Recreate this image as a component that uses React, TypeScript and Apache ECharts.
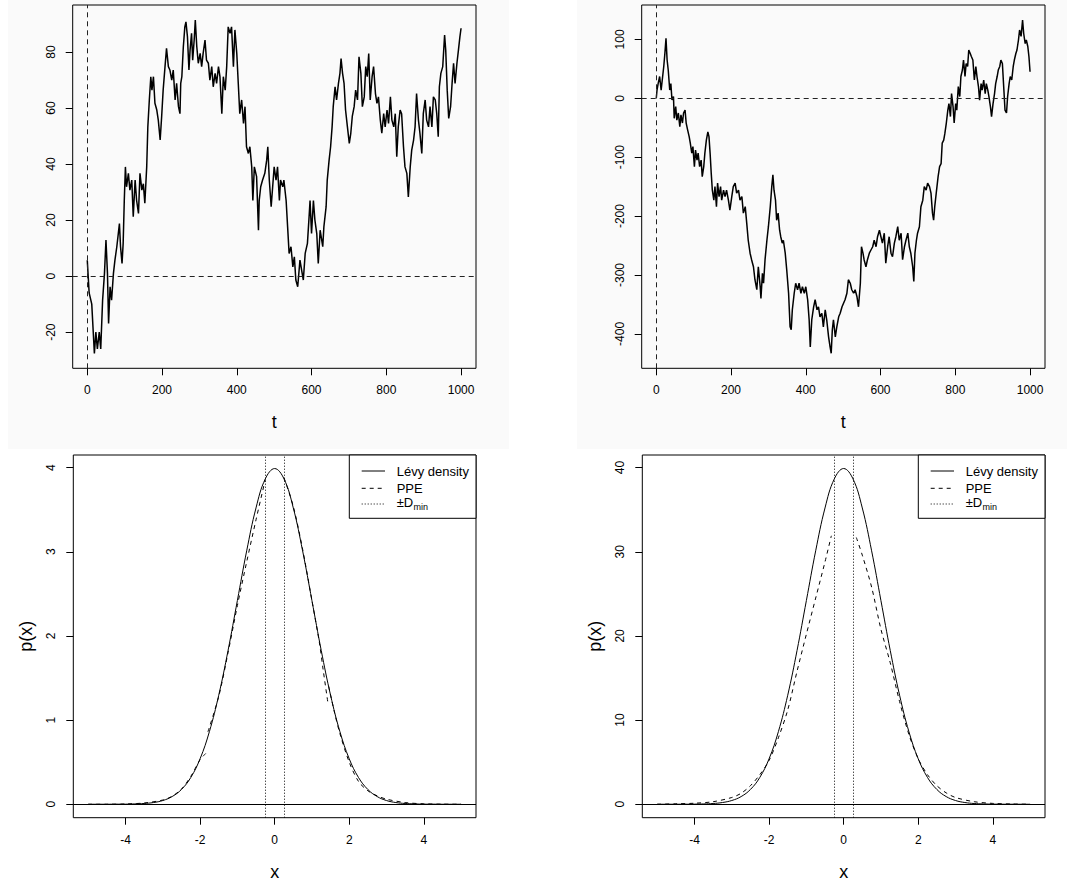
import React, { useEffect, useRef } from "react";
import * as echarts from "echarts";

const FONT = "'Liberation Sans', Arial, Helvetica, sans-serif";

// ---- Top-left random walk: [t, value]
const walkA: number[][] = [
  [0, 5.7], [5, -6], [12, -10], [16, -20], [19, -27.6], [23, -20], [27, -26], [32, -20], [36, -26], [41, -8.6],
  [46, 1], [50, 12.9], [54, 1], [57, -16.9], [61, -3.8], [65, -8.6], [70, 1], [74, 5.7], [79, 10.5], [83, 15.2],
  [86, 18.8], [89, 10.5], [93, 4.5], [96, 11.7], [99, 27], [102, 39], [105, 31.9], [110, 36.7], [114, 30.7], [119, 34.3],
  [123, 21.2], [128, 34.3], [132, 27], [137, 22.4], [141, 36.7], [146, 30.7], [150, 33], [154, 26], [159, 39], [162, 53.3],
  [166, 62.9], [170, 71.2], [173, 66.4], [177, 71.2], [181, 61.7], [186, 59.3], [190, 55.7], [195, 48.6], [199, 57], [203, 66.4],
  [208, 74.8], [212, 81.3], [217, 74.8], [221, 73.6], [226, 70], [230, 73.6], [235, 62.9], [239, 68.8], [244, 60.5], [248, 58],
  [250, 68.8], [253, 71.2], [257, 81.9], [261, 89], [264, 90.8], [268, 85.5], [272, 73.6], [275, 80.7], [279, 86.7], [282, 77.1],
  [286, 84.3], [289, 91.4], [293, 81.9], [297, 76], [302, 79.5], [306, 74.8], [310, 79.5], [315, 84.3], [319, 77.1], [324, 76],
  [328, 70], [333, 74.8], [337, 67.6], [342, 72.4], [346, 68.8], [351, 74.8], [355, 71.2], [360, 58], [364, 71.2], [369, 66.4],
  [373, 74.8], [377, 89], [382, 86.7], [386, 89], [391, 74.8], [395, 87.9], [400, 79.5], [404, 68.8], [408, 58], [413, 62.9],
  [418, 54.5], [422, 60.5], [426, 46.2], [431, 43.8], [435, 46.2], [440, 39], [443, 27], [447, 39], [453, 35.5], [458, 16.4],
  [460, 27], [464, 31.9], [469, 34.3], [475, 36.7], [480, 41.4], [483, 46.2], [487, 34.3], [492, 24.8], [496, 31.9], [500, 39],
  [505, 34.3], [509, 39], [514, 27], [517, 34.3], [523, 31.9], [526, 34.3], [532, 27], [536, 17.6], [540, 8.1], [545, 10.5],
  [550, 3.3], [554, 6.9], [558, -1.4], [563, -3.8], [569, 5.7], [578, -1.4], [583, 8.1], [589, 11.7], [594, 22.4], [596, 27],
  [600, 15.2], [605, 27], [609, 20], [614, 15.2], [618, 4.5], [623, 16.4], [630, 10.5], [633, 17.6], [639, 24.8], [642, 34.3],
  [647, 41.4], [651, 46.2], [655, 53.3], [658, 60.5], [663, 67.6], [667, 62.9], [672, 68.8], [676, 72.4], [679, 77.7], [683, 72.4],
  [687, 68.8], [691, 59.3], [696, 53.3], [701, 47.4], [705, 51], [709, 57], [714, 60.5], [718, 66.4], [723, 62.9], [727, 78.3],
  [732, 72.4], [736, 60.5], [741, 64], [745, 74.8], [749, 71.2], [753, 79.5], [757, 62.9], [762, 71.2], [766, 74.8], [771, 65.2],
  [775, 61.7], [779, 64], [784, 55.7], [788, 51], [793, 58], [797, 53.3], [802, 59.3], [806, 54.5], [811, 64], [815, 55.7],
  [820, 53.3], [824, 58], [828, 42.6], [832, 53.3], [837, 59.3], [841, 58], [846, 46.2], [850, 39], [855, 36.7], [859, 28.3],
  [864, 39], [868, 45], [873, 48.6], [877, 53.3], [881, 65.2], [886, 55.7], [890, 51], [895, 43.8], [899, 58], [904, 62.9],
  [908, 55.7], [913, 53.3], [917, 60.5], [922, 53.3], [926, 64], [931, 62.9], [935, 58], [939, 49.8], [942, 67.6], [946, 72.4],
  [951, 74.8], [956, 86.1], [959, 80.7], [963, 66.4], [967, 56.3], [972, 60.5], [976, 68.8], [980, 76], [984, 68.8], [989, 76],
  [993, 80.7], [997, 85.5], [1000, 88.5],
];

// ---- Top-right random walk: [t, value]
const walkB: number[][] = [
  [0, 0], [2, 14], [5, 25], [9, 37], [13, 14], [16, 31], [20, 54], [23, 76], [26, 102], [29, 65],
  [32, 48], [36, 14], [39, 25], [42, -3], [46, 3], [48, -34], [52, -14], [55, -37], [59, -25], [63, -48],
  [66, -28], [70, -42], [73, -25], [77, -20], [80, -42], [84, -54], [88, -65], [91, -76], [95, -93], [98, -82],
  [102, -116], [105, -88], [109, -105], [112, -93], [116, -116], [120, -105], [123, -133], [127, -116], [130, -93], [134, -71],
  [138, -57], [141, -65], [144, -93], [147, -127], [150, -156], [154, -173], [157, -150], [161, -184], [164, -144], [168, -167],
  [172, -150], [175, -173], [180, -156], [184, -167], [188, -156], [193, -173], [197, -190], [202, -167], [206, -150], [211, -144],
  [215, -161], [220, -156], [224, -173], [229, -167], [233, -195], [238, -184], [242, -212], [246, -241], [251, -263], [255, -274],
  [260, -286], [264, -308], [269, -325], [273, -286], [278, -320], [280, -340], [284, -297], [287, -314], [291, -274], [296, -241],
  [300, -218], [305, -184], [309, -150], [312, -130], [315, -156], [319, -173], [322, -207], [326, -195], [330, -224], [333, -235],
  [337, -246], [340, -241], [345, -263], [349, -291], [354, -331], [358, -388], [361, -393], [364, -359], [369, -331], [373, -314],
  [378, -325], [382, -314], [387, -331], [391, -320], [396, -331], [400, -320], [405, -342], [409, -376], [412, -422], [416, -376],
  [421, -354], [425, -342], [430, -359], [434, -354], [438, -371], [443, -365], [447, -388], [452, -359], [456, -376], [461, -405],
  [465, -422], [468, -433], [471, -393], [474, -376], [479, -405], [483, -388], [488, -371], [492, -365], [497, -354], [501, -348],
  [505, -342], [510, -331], [514, -308], [519, -314], [523, -325], [528, -331], [532, -325], [537, -337], [541, -354], [546, -314],
  [549, -252], [553, -263], [556, -274], [561, -286], [565, -274], [570, -263], [574, -258], [579, -252], [583, -241], [588, -252],
  [592, -235], [597, -224], [601, -235], [605, -246], [610, -229], [614, -280], [619, -252], [623, -235], [628, -263], [632, -269],
  [637, -246], [641, -235], [646, -218], [650, -241], [655, -229], [659, -274], [664, -252], [668, -241], [673, -229], [677, -252],
  [681, -263], [686, -286], [689, -311], [692, -263], [696, -241], [699, -229], [704, -218], [708, -184], [713, -173], [717, -150],
  [722, -156], [726, -144], [731, -150], [735, -161], [739, -195], [742, -207], [745, -184], [749, -161], [754, -133], [758, -116],
  [762, -111], [765, -76], [769, -71], [772, -60], [776, -42], [780, -20], [783, -9], [787, -31], [790, 8], [794, -14],
  [797, -42], [801, -9], [804, -20], [808, 20], [812, 3], [815, 37], [819, 48], [822, 65], [826, 37], [829, 59],
  [833, 54], [836, 82], [840, 76], [843, 71], [847, 65], [851, 31], [855, 54], [858, 37], [862, 20], [865, -3],
  [869, 25], [872, 14], [876, 31], [880, 8], [883, 25], [887, 14], [890, 3], [894, -14], [897, -31], [901, -9],
  [905, 8], [908, 25], [912, 37], [915, 48], [919, 54], [922, 65], [926, 59], [930, 14], [933, -20], [937, -25],
  [940, 3], [944, 25], [947, 37], [951, 31], [955, 54], [958, 65], [962, 76], [965, 82], [969, 99], [972, 116],
  [976, 105], [980, 133], [983, 110], [987, 93], [990, 99], [994, 88], [997, 71], [1000, 45],
];

const walkTicksX = [0, 200, 400, 600, 800, 1000];
const walkATicksY = [-20, 0, 20, 40, 60, 80];
const walkBTicksY = [-400, -300, -200, -100, 0, 100];
const walkRef = 0;

// ---- Densities, x grid and values
const densX = [
  -5, -4.75, -4.5, -4.25, -4, -3.75, -3.5, -3.25, -3, -2.75, -2.5, -2.25, -2, -1.75, -1.5, -1.25, -1, -0.75, -0.5, -0.25,
  0, 0.25, 0.5, 0.75, 1, 1.25, 1.5, 1.75, 2, 2.25, 2.5, 2.75, 3, 3.25, 3.5, 3.75, 4, 4.25, 4.5, 4.75, 5,
];
const levyA = [
  0, 0, 0, 0.001, 0.001, 0.004, 0.009, 0.02, 0.044, 0.091, 0.175, 0.317, 0.54, 0.863, 1.295, 1.826, 2.42, 3.011, 3.521, 3.867,
  3.989, 3.867, 3.521, 3.011, 2.42, 1.826, 1.295, 0.863, 0.54, 0.317, 0.175, 0.091, 0.044, 0.02, 0.009, 0.004, 0.001, 0.001, 0, 0, 0,
];
const levyB = [
  0, 0, 0.002, 0.005, 0.013, 0.035, 0.087, 0.203, 0.443, 0.909, 1.753, 3.174, 5.399, 8.628, 12.952, 18.265, 24.197, 30.114, 35.207, 38.667,
  39.894, 38.667, 35.207, 30.114, 24.197, 18.265, 12.952, 8.628, 5.399, 3.174, 1.753, 0.909, 0.443, 0.203, 0.087, 0.035, 0.013, 0.005, 0.002, 0, 0,
];

// PPE pieces: [x, y], null marks a break between pieces
const ppeA: (number | null)[][] = [
  [-5, 0], [-4.5, 0], [-4, 0.003], [-3.5, 0.015], [-3, 0.05], [-2.75, 0.095], [-2.5, 0.18], [-2.25, 0.33], [-2, 0.53], [-1.9, 0.58], [-1.81, 0.62],
  [-1.8, null],
  [-1.79, 0.86], [-1.5, 1.28], [-1.25, 1.8], [-1, 2.36], [-0.75, 2.88], [-0.5, 3.38], [-0.25, 3.86],
  [0, null],
  [0.25, 3.88], [0.5, 3.54], [0.75, 3.03], [1, 2.42], [1.2, 1.92], [1.3, 1.6], [1.43, 1.2],
  [1.44, null],
  [1.45, 1.4], [1.6, 1.1], [1.75, 0.84], [2, 0.5], [2.25, 0.27], [2.5, 0.16], [2.75, 0.1], [3, 0.06], [3.5, 0.02], [4, 0.005], [4.5, 0.001], [5, 0],
];
const ppeB: (number | null)[][] = [
  [-5, 0], [-4.5, 0.05], [-4, 0.12], [-3.5, 0.3], [-3, 0.8], [-2.75, 1.3], [-2.5, 2.2], [-2.25, 3.5], [-2, 5.2], [-1.75, 7.9],
  [-1.5, 11.2], [-1.25, 15.8], [-1, 20.2], [-0.75, 24.5], [-0.5, 28.8], [-0.33, 31.9],
  [0, null],
  [0.34, 31.7], [0.5, 29.6], [0.75, 25.8], [1, 20.8], [1.25, 16.8], [1.5, 12.2], [1.75, 8.3], [2, 5.4], [2.25, 3.5],
  [2.5, 2.2], [2.75, 1.35], [3, 0.8], [3.5, 0.3], [4, 0.1], [4.5, 0.03], [5, 0],
];
const densTicksX = [-4, -2, 0, 2, 4];
const densATicksY = [0, 1, 2, 3, 4];
const densBTicksY = [0, 10, 20, 30, 40];
const dMin = 0.25;
const legendLabels = ["Lévy density", "PPE", "±D"];

const black = "#000";

function xAxisDef(gridIndex: number, min: number, max: number, ticks: number[], name: string) {
  return {
    gridIndex,
    type: "value",
    min,
    max,
    axisLine: { show: false, onZero: false },
    splitLine: { show: false },
    axisTick: { show: true, inside: false, length: 7, lineStyle: { color: black, width: 1 }, customValues: ticks },
    axisLabel: {
      customValues: ticks, margin: 16, fontSize: 12, color: black, fontFamily: FONT,
      formatter: (v: number) => String(v),
    },
    name,
    nameLocation: "middle",
    nameGap: 45,
    nameTextStyle: { fontSize: 18, color: black, fontFamily: FONT },
  };
}

function yAxisDef(gridIndex: number, min: number, max: number, ticks: number[], name: string) {
  return {
    gridIndex,
    type: "value",
    min,
    max,
    axisLine: { show: false, onZero: false },
    splitLine: { show: false },
    axisTick: { show: true, inside: false, length: 7, lineStyle: { color: black, width: 1 }, customValues: ticks },
    axisLabel: {
      customValues: ticks, margin: 16, fontSize: 12, color: black, fontFamily: FONT, rotate: 90,
      formatter: (v: number) => String(v),
    },
    name,
    nameLocation: "middle",
    nameGap: 38,
    nameRotate: 90,
    nameTextStyle: { fontSize: 18, color: black, fontFamily: FONT },
  };
}

function legendGraphic(left: number, top: number) {
  const w = 126.7;
  const h = 63.3;
  const lx1 = left + 12.4;
  const lx2 = left + 35.7;
  const tx = left + 47.4;
  const rows = [top + 16, top + 33.3, top + 49];
  const dashes: any[] = [null, [4, 4], [1, 2]];
  const els: any[] = [
    { type: "rect", shape: { x: left, y: top, width: w, height: h }, style: { fill: "#fff", stroke: black, lineWidth: 1 }, z: 50 },
  ];
  rows.forEach((y, i) => {
    els.push({
      type: "line",
      shape: { x1: lx1, y1: y, x2: lx2, y2: y },
      style: { stroke: black, lineWidth: 1, lineDash: dashes[i] || undefined },
      z: 51,
    });
    els.push({
      type: "text",
      x: tx,
      y: i === 2 ? y - 1.5 : y,
      style: { text: legendLabels[i], fill: black, font: `13px ${FONT}`, align: "left", verticalAlign: "middle" },
      z: 51,
    });
  });
  els.push({
    type: "text",
    x: tx + 16.8,
    y: rows[2] + 2.5,
    style: { text: "min", fill: black, font: `9px ${FONT}`, align: "left", verticalAlign: "middle" },
    z: 51,
  });
  return els;
}

export default function App() {
  const ref = useRef<HTMLDivElement>(null);

  useEffect(() => {
    if (!ref.current) return;
    const chart = echarts.init(ref.current, null, { renderer: "svg" });

    const toData = (pts: (number | null)[][]) => pts.map((p) => [p[0], p[1] === null ? "-" : p[1]]);
    const dens = (vals: number[]) => densX.map((x, i) => [x, vals[i]]);

    const walkMark = {
      symbol: "none",
      silent: true,
      label: { show: false },
      lineStyle: { color: "#222", width: 1, type: [5, 4] },
      data: [{ yAxis: walkRef }, { xAxis: walkRef }],
    };
    const densMark = {
      symbol: "none",
      silent: true,
      label: { show: false },
      lineStyle: { color: black, width: 1, type: [1, 2] },
      data: [
        { yAxis: 0, lineStyle: { type: "solid", color: black, width: 1 } },
        { xAxis: -dMin },
        { xAxis: dMin },
      ],
    };

    const option: any = {
      animation: false,
      backgroundColor: "#fff",
      textStyle: { fontFamily: FONT },
      graphic: {
        elements: [
          { type: "rect", shape: { x: 8, y: 0, width: 501, height: 449 }, style: { fill: "#fafafa" }, z: -10, silent: true },
          { type: "rect", shape: { x: 577, y: 0, width: 490, height: 449 }, style: { fill: "#fafafa" }, z: -10, silent: true },
          ...legendGraphic(349.3, 455),
          ...legendGraphic(918.3, 455),
        ],
      },
      grid: [
        { left: 72.7, top: 5, width: 403.3, height: 363.3, show: true, borderColor: black, borderWidth: 1, backgroundColor: "transparent" },
        { left: 641.7, top: 5, width: 403.3, height: 363.3, show: true, borderColor: black, borderWidth: 1, backgroundColor: "transparent" },
        { left: 73.3, top: 455, width: 402.7, height: 362.7, show: true, borderColor: black, borderWidth: 1, backgroundColor: "transparent" },
        { left: 642.3, top: 455, width: 402.7, height: 362.7, show: true, borderColor: black, borderWidth: 1, backgroundColor: "transparent" },
      ],
      xAxis: [
        xAxisDef(0, -39, 1040, walkTicksX, "t"),
        xAxisDef(1, -39, 1040, walkTicksX, "t"),
        xAxisDef(2, -5.4, 5.4, densTicksX, "x"),
        xAxisDef(3, -5.4, 5.4, densTicksX, "x"),
      ],
      yAxis: [
        yAxisDef(0, -32.9, 96.8, walkATicksY, ""),
        yAxisDef(1, -458.4, 158.4, walkBTicksY, ""),
        yAxisDef(2, -0.16, 4.15, densATicksY, "p(x)"),
        yAxisDef(3, -1.6, 41.5, densBTicksY, "p(x)"),
      ],
      series: [
        {
          type: "line", xAxisIndex: 0, yAxisIndex: 0, data: walkA, symbol: "none",
          lineStyle: { color: black, width: 1.5 }, markLine: walkMark,
        },
        {
          type: "line", xAxisIndex: 1, yAxisIndex: 1, data: walkB, symbol: "none",
          lineStyle: { color: black, width: 1.5 }, markLine: walkMark,
        },
        {
          type: "line", xAxisIndex: 2, yAxisIndex: 2, data: dens(levyA), symbol: "none", smooth: 0.4,
          lineStyle: { color: black, width: 1 }, markLine: densMark,
        },
        {
          type: "line", xAxisIndex: 2, yAxisIndex: 2, data: toData(ppeA), symbol: "none", smooth: 0.3, connectNulls: false,
          lineStyle: { color: black, width: 1, type: [4, 4] },
        },
        {
          type: "line", xAxisIndex: 3, yAxisIndex: 3, data: dens(levyB), symbol: "none", smooth: 0.4,
          lineStyle: { color: black, width: 1 }, markLine: densMark,
        },
        {
          type: "line", xAxisIndex: 3, yAxisIndex: 3, data: toData(ppeB), symbol: "none", smooth: 0.3, connectNulls: false,
          lineStyle: { color: black, width: 1, type: [4, 4] },
        },
      ],
    };

    chart.setOption(option);
    return () => chart.dispose();
  }, []);

  return (
    <div
      ref={ref}
      style={{ position: "absolute", left: 0, top: 0, width: 1067, height: 884, background: "#fff" }}
    />
  );
}
